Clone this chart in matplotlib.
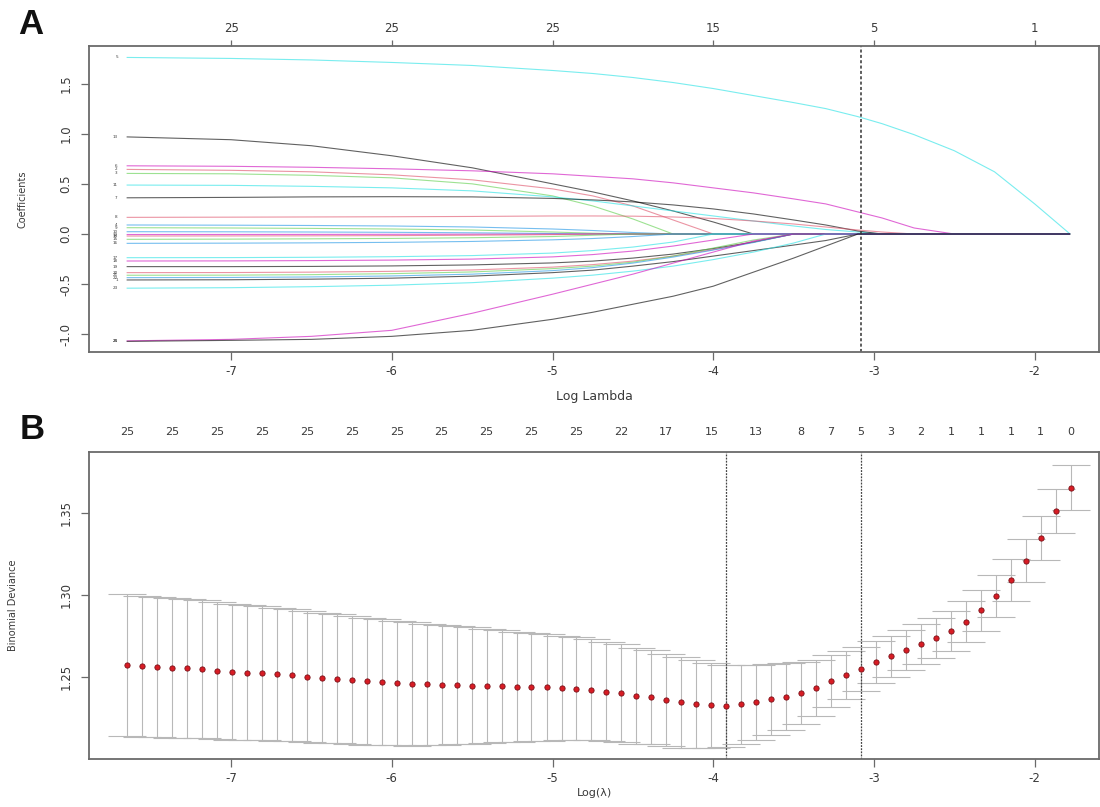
import numpy as np
import matplotlib
matplotlib.use("Agg")
import matplotlib.pyplot as plt

plt.rcParams['font.family'] = ['DejaVu Sans']

# ---------------- Panel A data: coefficient paths ----------------
path_log_lambda = [-7.65, -7.0, -6.5, -6.0, -5.5, -5.0, -4.75, -4.5, -4.25, -4.0,
                   -3.75, -3.5, -3.3, -3.1, -2.95, -2.75, -2.5, -2.25, -2.0, -1.78]
coef_labels = [5, 13, 6, 2, 3, 11, 7, 8, 4, 9, 10, 12, 14, 15, 16, 17, 18, 19, 20,
               21, 22, 1, 23, 24, 25]
coef_paths = [
    [1.76, 1.75, 1.735, 1.71, 1.68, 1.63, 1.60, 1.56, 1.51, 1.45, 1.38, 1.31, 1.25, 1.17, 1.10, 0.99, 0.83, 0.62, 0.30, 0.0],
    [0.968, 0.94, 0.88, 0.78, 0.66, 0.50, 0.42, 0.33, 0.23, 0.12, 0.0, 0, 0, 0, 0, 0, 0, 0, 0, 0],
    [0.68, 0.675, 0.665, 0.65, 0.63, 0.60, 0.575, 0.55, 0.51, 0.46, 0.41, 0.35, 0.30, 0.22, 0.16, 0.06, 0.0, 0, 0, 0],
    [0.644, 0.635, 0.62, 0.59, 0.54, 0.45, 0.38, 0.28, 0.14, 0.0, 0, 0, 0, 0, 0, 0, 0, 0, 0, 0],
    [0.604, 0.60, 0.585, 0.56, 0.50, 0.38, 0.28, 0.15, 0.0, 0, 0, 0, 0, 0, 0, 0, 0, 0, 0, 0],
    [0.488, 0.485, 0.475, 0.46, 0.43, 0.37, 0.33, 0.28, 0.23, 0.18, 0.13, 0.08, 0.045, 0.02, 0.0, 0, 0, 0, 0, 0],
    [0.361, 0.365, 0.37, 0.372, 0.37, 0.355, 0.34, 0.32, 0.29, 0.25, 0.20, 0.14, 0.09, 0.03, 0.0, 0, 0, 0, 0, 0],
    [0.166, 0.168, 0.17, 0.172, 0.175, 0.18, 0.18, 0.178, 0.17, 0.155, 0.13, 0.10, 0.07, 0.04, 0.02, 0.0, 0, 0, 0, 0],
    [0.09, 0.088, 0.085, 0.08, 0.07, 0.05, 0.035, 0.015, 0.0, 0, 0, 0, 0, 0, 0, 0, 0, 0, 0, 0],
    [0.063, 0.06, 0.056, 0.05, 0.04, 0.02, 0.008, 0.0, 0, 0, 0, 0, 0, 0, 0, 0, 0, 0, 0, 0],
    [0.023, 0.022, 0.02, 0.017, 0.012, 0.005, 0.0, 0, 0, 0, 0, 0, 0, 0, 0, 0, 0, 0, 0, 0],
    [-0.005, -0.0045, -0.004, -0.003, -0.002, -0.001, 0.0, 0, 0, 0, 0, 0, 0, 0, 0, 0, 0, 0, 0, 0],
    [-0.02, -0.019, -0.018, -0.016, -0.012, -0.006, 0.0, 0, 0, 0, 0, 0, 0, 0, 0, 0, 0, 0, 0, 0],
    [-0.053, -0.051, -0.048, -0.044, -0.037, -0.025, -0.012, 0.0, 0, 0, 0, 0, 0, 0, 0, 0, 0, 0, 0, 0],
    [-0.093, -0.091, -0.088, -0.083, -0.074, -0.058, -0.045, -0.025, 0.0, 0, 0, 0, 0, 0, 0, 0, 0, 0, 0, 0],
    [-0.236, -0.235, -0.232, -0.226, -0.215, -0.19, -0.165, -0.13, -0.08, 0.0, 0, 0, 0, 0, 0, 0, 0, 0, 0, 0],
    [-0.269, -0.268, -0.265, -0.26, -0.25, -0.228, -0.205, -0.17, -0.12, -0.06, 0.0, 0, 0, 0, 0, 0, 0, 0, 0, 0],
    [-0.325, -0.325, -0.323, -0.318, -0.308, -0.288, -0.27, -0.24, -0.20, -0.145, -0.08, 0.0, 0, 0, 0, 0, 0, 0, 0, 0],
    [-0.385, -0.384, -0.38, -0.372, -0.358, -0.33, -0.305, -0.27, -0.22, -0.155, -0.08, 0.0, 0, 0, 0, 0, 0, 0, 0, 0],
    [-0.411, -0.41, -0.405, -0.395, -0.378, -0.345, -0.32, -0.28, -0.22, -0.14, -0.06, 0.0, 0, 0, 0, 0, 0, 0, 0, 0],
    [-0.435, -0.433, -0.428, -0.418, -0.40, -0.365, -0.335, -0.29, -0.23, -0.16, -0.085, 0.0, 0, 0, 0, 0, 0, 0, 0, 0],
    [-0.458, -0.456, -0.45, -0.44, -0.42, -0.385, -0.36, -0.32, -0.275, -0.22, -0.165, -0.11, -0.065, 0.0, 0, 0, 0, 0, 0, 0],
    [-0.54, -0.535, -0.525, -0.51, -0.485, -0.44, -0.41, -0.37, -0.32, -0.255, -0.18, -0.09, 0.0, 0, 0, 0, 0, 0, 0, 0],
    [-1.065, -1.05, -1.02, -0.96, -0.79, -0.60, -0.50, -0.40, -0.29, -0.18, -0.07, 0.0, 0, 0, 0, 0, 0, 0, 0, 0],
    [-1.07, -1.06, -1.05, -1.02, -0.96, -0.85, -0.78, -0.70, -0.62, -0.52, -0.38, -0.24, -0.12, 0.0, 0, 0, 0, 0, 0, 0],
]
a_top_ticks = [-7, -6, -5, -4, -3, -2]
a_top_labels = ["25", "25", "25", "15", "5", "1"]

# ---------------- Panel B data: cross-validation ----------------
cv_log_lambda = [-7.647, -7.554, -7.461, -7.367, -7.274, -7.181, -7.088, -6.995, -6.901, -6.808,
                 -6.715, -6.622, -6.529, -6.435, -6.342, -6.249, -6.156, -6.063, -5.969, -5.876,
                 -5.783, -5.690, -5.597, -5.503, -5.410, -5.317, -5.224, -5.131, -5.037, -4.944,
                 -4.851, -4.758, -4.665, -4.571, -4.478, -4.385, -4.292, -4.199, -4.105, -4.012,
                 -3.919, -3.826, -3.733, -3.639, -3.546, -3.453, -3.360, -3.267, -3.173, -3.080,
                 -2.987, -2.894, -2.801, -2.707, -2.614, -2.521, -2.428, -2.335, -2.241, -2.148,
                 -2.055, -1.962, -1.869, -1.776]
cv_mean = [1.2571, 1.2565, 1.2561, 1.2555, 1.2551, 1.2545, 1.2537, 1.2529, 1.2524, 1.2521,
           1.2515, 1.2508, 1.2500, 1.2492, 1.2488, 1.2480, 1.2472, 1.2466, 1.2462, 1.2456,
           1.2454, 1.2450, 1.2448, 1.2446, 1.2444, 1.2442, 1.2439, 1.2437, 1.2435, 1.2431,
           1.2427, 1.2421, 1.2409, 1.2399, 1.2385, 1.2375, 1.2358, 1.2344, 1.2334, 1.2326,
           1.2324, 1.2332, 1.2344, 1.2363, 1.2378, 1.2401, 1.2433, 1.2474, 1.2510, 1.2549,
           1.2588, 1.2626, 1.2662, 1.2699, 1.2737, 1.2780, 1.2837, 1.2905, 1.2993, 1.3088,
           1.3209, 1.3348, 1.3513, 1.3655]
cv_sd = [0.0432, 0.0430, 0.0428, 0.0426, 0.0424, 0.0421, 0.0418, 0.0415, 0.0412, 0.0409,
         0.0406, 0.0403, 0.0400, 0.0397, 0.0394, 0.0391, 0.0388, 0.0385, 0.0380, 0.0376,
         0.0371, 0.0366, 0.0361, 0.0355, 0.0349, 0.0343, 0.0337, 0.0331, 0.0325, 0.0319,
         0.0313, 0.0308, 0.0303, 0.0298, 0.0293, 0.0288, 0.0283, 0.0276, 0.0268, 0.0258,
         0.0250, 0.0240, 0.0228, 0.0216, 0.0203, 0.0188, 0.0172, 0.0158, 0.0145, 0.0135,
         0.0128, 0.0125, 0.0123, 0.0122, 0.0122, 0.0122, 0.0123, 0.0124, 0.0126, 0.0128,
         0.0130, 0.0133, 0.0136, 0.0138]
nz_label_idx = [0, 3, 6, 9, 12, 15, 18, 21, 24, 27, 30, 33, 36, 39, 42, 45, 47, 49, 51,
                53, 55, 57, 59, 61, 63]
nz_labels = ["25", "25", "25", "25", "25", "25", "25", "25", "25", "25", "25", "22", "17",
             "15", "13", "8", "7", "5", "3", "2", "1", "1", "1", "1", "0"]
lambda_min_idx = 40
lambda_1se_idx = 49

# ---------------- styling ----------------
r_palette = ["#000000", "#DF536B", "#61D04F", "#2297E6", "#28E2E5", "#CD0BBC"]
txt = "#3a3a3a"
spine_c = "#6a6a6a"
W, H = 1100, 807

fig = plt.figure(figsize=(11, 8.07), dpi=100)
axA = fig.add_axes([89 / W, 1 - 352 / H, (1099 - 89) / W, (352 - 46) / H])
axB = fig.add_axes([89 / W, 1 - 759 / H, (1099 - 89) / W, (759 - 452) / H])

for ax in (axA, axB):
    for s in ax.spines.values():
        s.set_color(spine_c)
        s.set_linewidth(1.3)
    ax.tick_params(axis='both', colors=spine_c, labelcolor=txt, labelsize=8.5,
                   length=6, width=0.9)
    ax.set_xlim(-7.884, -1.60)

# ---- Panel A ----
x_path = np.array(path_log_lambda)
for lab, ys in zip(coef_labels, coef_paths):
    col = r_palette[(lab - 1) % 6]
    axA.plot(x_path, ys, color=col, lw=0.8, alpha=0.62, solid_capstyle='butt')
    axA.text(x_path[0] - 0.055, ys[0], str(lab), fontsize=3, color=txt,
             ha='right', va='center')
axA.axvline(cv_log_lambda[lambda_1se_idx], color="#333333", lw=1.1, ls=(0, (2, 1.5)))
axA.set_ylim(-1.176, 1.874)
axA.set_xticks([-7, -6, -5, -4, -3, -2])
axA.set_xticklabels(["-7", "-6", "-5", "-4", "-3", "-2"])
axA.set_yticks([-1.0, -0.5, 0.0, 0.5, 1.0, 1.5])
axA.set_yticklabels(["-1.0", "-0.5", "0.0", "0.5", "1.0", "1.5"], rotation=90, va='center')
axA.tick_params(axis='y', pad=6)
axA.set_xlabel("Log Lambda", fontsize=9, color=txt)
axA.xaxis.set_label_coords(0.5, -(390 - 352) / 306)
axA.set_ylabel("Coefficients", fontsize=7, color=txt)
axA.yaxis.set_label_coords(-(89 - 27) / 1010, 0.5)

axAt = axA.twiny()
axAt.set_xlim(axA.get_xlim())
axAt.set_xticks(a_top_ticks)
axAt.set_xticklabels(a_top_labels)
axAt.tick_params(axis='x', colors=spine_c, labelcolor=txt, labelsize=8.5, length=4,
                 width=0.9, pad=4)
for s in axAt.spines.values():
    s.set_visible(False)

# ---- Panel B ----
x = np.array(cv_log_lambda)
m = np.array(cv_mean)
sd = np.array(cv_sd)
up, lo = m + sd, m - sd
barw = 0.02 * (x.max() - x.min())
bar_c = "#b8b8b8"
axB.vlines(x, lo, up, color=bar_c, lw=0.8)
axB.hlines(up, x - barw, x + barw, color=bar_c, lw=0.8)
axB.hlines(lo, x - barw, x + barw, color=bar_c, lw=0.8)
axB.plot(x, m, 'o', color="#d81c24", ms=3.8, mec="#7a1018", mew=0.6, zorder=5)
axB.axvline(x[lambda_min_idx], color="#444444", lw=0.9, ls=(0, (1.5, 1)))
axB.axvline(x[lambda_1se_idx], color="#444444", lw=0.9, ls=(0, (1.5, 1)))
axB.set_ylim(1.1998, 1.3872)
axB.set_xticks([-7, -6, -5, -4, -3, -2])
axB.set_xticklabels(["-7", "-6", "-5", "-4", "-3", "-2"])
axB.set_yticks([1.25, 1.30, 1.35])
axB.set_yticklabels(["1.25", "1.30", "1.35"], rotation=90, va='center')
axB.tick_params(axis='y', pad=6)
axB.set_xlabel("Log(\u03bb)", fontsize=8, color=txt)
axB.xaxis.set_label_coords(0.5, -(788 - 759) / 307)
axB.set_ylabel("Binomial Deviance", fontsize=7, color=txt)
axB.yaxis.set_label_coords(-(89 - 18) / 1010, 0.5)

axBt = axB.twiny()
axBt.set_xlim(axB.get_xlim())
axBt.set_xticks([x[i] for i in nz_label_idx])
axBt.set_xticklabels(nz_labels)
axBt.tick_params(axis='x', length=0, labelcolor=txt, labelsize=8, pad=11)
for s in axBt.spines.values():
    s.set_visible(False)

fig.text(18 / W, 1 - 25 / H, "A", fontsize=25, fontweight='bold', family='Liberation Sans',
         ha='left', va='center', color="#111111")
fig.text(20 / W, 1 - 429 / H, "B", fontsize=25, fontweight='bold', family='Liberation Sans',
         ha='left', va='center', color="#111111")

fig.savefig("out.png", dpi=100)
